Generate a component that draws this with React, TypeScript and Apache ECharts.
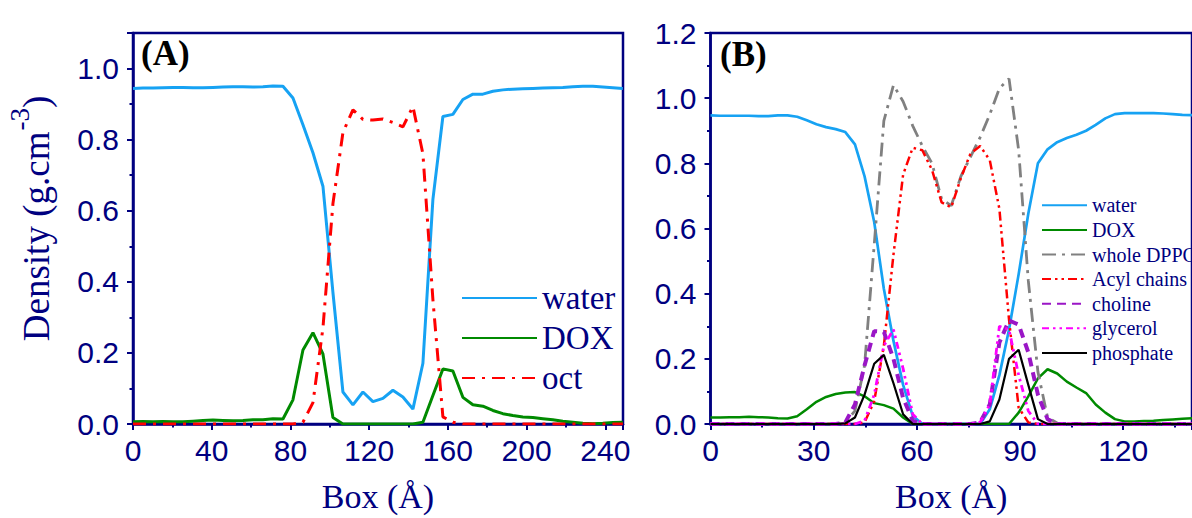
import React, { useEffect, useRef } from 'react';
import * as echarts from 'echarts';

const NAVY = '#000080';
const SANS = 'Liberation Sans, Arial, sans-serif';
const SERIF = 'Liberation Serif, Times New Roman, serif';

// Panel A sampling step (Å) and panel B sampling step (Å)
const STEP_A = 5.08;
const STEP_B = 2.8;

// ---------- Panel A ----------
const waterA = [
  0.944, 0.945, 0.945, 0.946, 0.947, 0.947, 0.946, 0.946, 0.947, 0.948,
  0.949, 0.949, 0.948, 0.949, 0.951, 0.950, 0.917, 0.842, 0.763, 0.669,
  0.370, 0.090, 0.054, 0.090, 0.063, 0.072, 0.095, 0.076, 0.042, 0.171,
  0.632, 0.865, 0.871, 0.913, 0.928, 0.928, 0.936, 0.940, 0.942, 0.943,
  0.944, 0.945, 0.946, 0.947, 0.949, 0.950, 0.950, 0.948, 0.946, 0.944,
];
const doxA = [
  0.006, 0.007, 0.006, 0.007, 0.006, 0.006, 0.008, 0.010, 0.011, 0.010,
  0.009, 0.010, 0.012, 0.012, 0.015, 0.014, 0.068, 0.208, 0.257, 0.197,
  0.018, 0, 0, 0, 0, 0, 0, 0, 0, 0.005,
  0.080, 0.155, 0.149, 0.075, 0.054, 0.050, 0.038, 0.029, 0.024, 0.020,
  0.018, 0.015, 0.012, 0.008, 0.005, 0.002, 0.001, 0.002, 0.004, 0.005,
];
const octA = [
  0, 0, 0, 0, 0, 0, 0, 0, 0, 0,
  0, 0, 0, 0, 0, 0, 0, 0.005, 0.06, 0.27,
  0.62, 0.82, 0.884, 0.857, 0.855, 0.858, 0.848, 0.836, 0.893, 0.76,
  0.35, 0.02, 0.005, 0, 0, 0, 0, 0, 0, 0,
  0, 0, 0, 0, 0, 0, 0, 0, 0, 0,
];

// ---------- Panel B ----------
const waterB = [
  0.947, 0.946, 0.946, 0.946, 0.946, 0.945, 0.945, 0.947, 0.947, 0.943,
  0.932, 0.920, 0.911, 0.905, 0.896, 0.858, 0.760, 0.620, 0.415, 0.255,
  0.120, 0.025, 0, 0, 0, 0, 0, 0, 0, 0.045,
  0.150, 0.290, 0.460, 0.645, 0.800, 0.843, 0.865, 0.878, 0.888, 0.900,
  0.918, 0.938, 0.951, 0.954, 0.954, 0.954, 0.954, 0.953, 0.951, 0.949,
  0.948,
];
const doxB = [
  0.020, 0.020, 0.021, 0.021, 0.022, 0.021, 0.020, 0.018, 0.017, 0.024,
  0.045, 0.068, 0.083, 0.092, 0.097, 0.098, 0.085, 0.064, 0.058, 0.047,
  0.020, 0, 0, 0, 0, 0, 0, 0, 0, 0,
  0, 0, 0.035, 0.085, 0.140, 0.168, 0.155, 0.130, 0.112, 0.095,
  0.060, 0.035, 0.015, 0.008, 0.008, 0.009, 0.010, 0.012, 0.014, 0.016,
  0.018,
];
const dppcB = [
  0, 0, 0, 0, 0, 0, 0, 0, 0, 0,
  0, 0, 0, 0, 0.005, 0.04, 0.18, 0.55, 0.93, 1.04,
  0.99, 0.915, 0.853, 0.80, 0.69, 0.67, 0.76, 0.82, 0.88, 0.95,
  1.03, 1.06, 0.84, 0.44, 0.16, 0.02, 0.003, 0, 0, 0,
  0, 0, 0, 0, 0, 0, 0, 0, 0, 0,
  0,
];
const acylB = [
  0, 0, 0, 0, 0, 0, 0, 0, 0, 0,
  0, 0, 0, 0, 0, 0, 0.005, 0.07, 0.24, 0.52,
  0.765, 0.848, 0.84, 0.78, 0.68, 0.665, 0.755, 0.83, 0.853, 0.81,
  0.66, 0.32, 0.05, 0.005, 0, 0, 0, 0, 0, 0,
  0, 0, 0, 0, 0, 0, 0, 0, 0, 0,
  0,
];
const cholineB = [
  0, 0, 0, 0, 0, 0, 0, 0, 0, 0,
  0, 0, 0, 0, 0.005, 0.06, 0.18, 0.285, 0.283, 0.2,
  0.08, 0.01, 0, 0, 0, 0, 0, 0, 0.005, 0.06,
  0.25, 0.318, 0.305, 0.22, 0.09, 0.015, 0, 0, 0, 0,
  0, 0, 0, 0, 0, 0, 0, 0, 0, 0,
  0,
];
const glycerolB = [
  0, 0, 0, 0, 0, 0, 0, 0, 0, 0,
  0, 0, 0, 0, 0, 0, 0.01, 0.09, 0.24, 0.29,
  0.17, 0.03, 0, 0, 0, 0, 0, 0, 0.005, 0.06,
  0.30, 0.29, 0.15, 0.04, 0, 0, 0, 0, 0, 0,
  0, 0, 0, 0, 0, 0, 0, 0, 0, 0,
  0,
];
const phosphateB = [
  0, 0, 0, 0, 0, 0, 0, 0, 0, 0,
  0, 0, 0, 0, 0.002, 0.02, 0.09, 0.185, 0.212, 0.125,
  0.03, 0, 0, 0, 0, 0, 0, 0, 0, 0.008,
  0.075, 0.2, 0.228, 0.12, 0.015, 0, 0, 0, 0, 0,
  0, 0, 0, 0, 0, 0, 0, 0, 0, 0,
  0,
];

const legendA = ['water', 'DOX', 'oct'];
const legendB = ['water', 'DOX', 'whole DPPC', 'Acyl chains', 'choline', 'glycerol', 'phosphate'];

const xA = waterA.map((_, i) => +(i * STEP_A).toFixed(2));
const xB = waterB.map((_, i) => +(i * STEP_B).toFixed(2));
const pairs = (xs: number[], ys: number[]) => xs.map((x, i) => [x, ys[i]]);

const COLORS: Record<string, string> = {
  water: '#16a2f3',
  DOX: '#008a00',
  oct: '#ff0000',
  'whole DPPC': '#808080',
  'Acyl chains': '#ff0000',
  choline: '#9a16c6',
  glycerol: '#ff00ff',
  phosphate: '#000000',
};

function xAxisCfg(gridIndex: number, max: number, interval: number) {
  return {
    type: 'value',
    gridIndex,
    min: 0,
    max,
    interval,
    axisLine: { show: true, onZero: false, lineStyle: { color: NAVY, width: 2.5 } },
    axisTick: { show: true, length: 6, lineStyle: { color: NAVY, width: 2 } },
    minorTick: { show: true, splitNumber: 2, length: 3.5, lineStyle: { color: NAVY, width: 2 } },
    splitLine: { show: false },
    minorSplitLine: { show: false },
    axisLabel: {
      color: NAVY,
      fontFamily: SANS,
      fontSize: 30,
      margin: 11,
      showMaxLabel: false,
    },
    name: 'Box (Å)',
    nameLocation: 'middle',
    nameGap: 55,
    nameTextStyle: { color: NAVY, fontFamily: SERIF, fontSize: 34 },
  };
}

function yAxisCfg(gridIndex: number, max: number, showMax: boolean, withName: boolean) {
  const cfg: any = {
    type: 'value',
    gridIndex,
    min: 0,
    max,
    interval: 0.2,
    axisLine: { show: true, onZero: false, lineStyle: { color: NAVY, width: 2.5 } },
    axisTick: { show: true, length: 6, lineStyle: { color: NAVY, width: 2 } },
    minorTick: { show: true, splitNumber: 2, length: 3.5, lineStyle: { color: NAVY, width: 2 } },
    splitLine: { show: false },
    minorSplitLine: { show: false },
    axisLabel: {
      color: NAVY,
      fontFamily: SANS,
      fontSize: 30,
      margin: 14,
      showMaxLabel: showMax,
      formatter: (v: number) => v.toFixed(1),
    },
  };
  if (withName) {
    cfg.name = '{m|Density (g.cm}{s|-3}{m|)}';
    cfg.nameLocation = 'middle';
    cfg.nameGap = 78;
    cfg.nameTextStyle = {
      color: NAVY,
      fontFamily: SERIF,
      padding: [0, 0, 0, 20],
      rich: {
        m: { fontFamily: SERIF, fontSize: 37, color: NAVY, lineHeight: 40, verticalAlign: 'bottom' },
        s: {
          fontFamily: SERIF,
          fontSize: 27,
          color: NAVY,
          lineHeight: 27,
          verticalAlign: 'bottom',
          padding: [0, 0, 22, 1],
        },
      },
    };
  }
  return cfg;
}

function lineSeries(
  name: string,
  idx: number,
  xs: number[],
  ys: number[],
  width: number,
  type: any,
  z: number,
) {
  const color = COLORS[name];
  return {
    type: 'line',
    name,
    xAxisIndex: idx,
    yAxisIndex: idx,
    data: pairs(xs, ys),
    symbol: 'none',
    showSymbol: false,
    color,
    silent: true,
    z,
    lineStyle: { color, width, type },
    itemStyle: { color },
    emphasis: { disabled: true },
  };
}

const option: any = {
  animation: false,
  backgroundColor: '#ffffff',
  title: [
    {
      text: '(A)',
      left: 141,
      top: 36,
      padding: 0,
      textStyle: { fontFamily: SERIF, fontWeight: 'bold', fontSize: 35, color: '#000000' },
    },
    {
      text: '(B)',
      left: 720,
      top: 37,
      padding: 0,
      textStyle: { fontFamily: SERIF, fontWeight: 'bold', fontSize: 35, color: '#000000' },
    },
  ],
  legend: [
    {
      orient: 'vertical',
      left: 461,
      top: 278,
      padding: 0,
      itemWidth: 75,
      itemHeight: 4,
      itemGap: 0,
      selectedMode: false,
      itemStyle: { opacity: 0 },
      textStyle: { fontFamily: SERIF, fontSize: 33, color: NAVY, lineHeight: 40 },
      data: legendA,
    },
    {
      orient: 'vertical',
      left: 1041,
      top: 193,
      padding: 0,
      itemWidth: 45,
      itemHeight: 4,
      itemGap: 0,
      selectedMode: false,
      itemStyle: { opacity: 0 },
      textStyle: { fontFamily: SERIF, fontSize: 20, color: NAVY, lineHeight: 24.6 },
      data: legendB,
    },
  ],
  grid: [
    {
      left: 133,
      top: 33,
      width: 490,
      height: 393,
      show: true,
      borderColor: NAVY,
      borderWidth: 2.5,
      backgroundColor: 'transparent',
    },
    {
      left: 710.5,
      top: 33,
      width: 491,
      height: 393.5,
      show: true,
      borderColor: NAVY,
      borderWidth: 2.5,
      backgroundColor: 'transparent',
    },
  ],
  xAxis: [xAxisCfg(0, 249, 40), xAxisCfg(1, 140, 30)],
  yAxis: [yAxisCfg(0, 1.1, false, true), yAxisCfg(1, 1.2, true, false)],
  series: [
    lineSeries('water', 0, xA, waterA, 3, 'solid', 3),
    lineSeries('DOX', 0, xA, doxA, 3, 'solid', 2),
    lineSeries('oct', 0, xA, octA, 3, [13, 7, 3, 7], 4),

    lineSeries('water', 1, xB, waterB, 2.7, 'solid', 3),
    lineSeries('DOX', 1, xB, doxB, 2.5, 'solid', 2),
    lineSeries('whole DPPC', 1, xB, dppcB, 2.8, [14, 6, 3, 6], 3),
    lineSeries('Acyl chains', 1, xB, acylB, 2.5, [9, 4, 2.5, 4, 2.5, 4], 4),
    lineSeries('choline', 1, xB, cholineB, 4, [9, 6], 5),
    lineSeries('glycerol', 1, xB, glycerolB, 2.8, [7, 4, 2.5, 4, 2.5, 4], 5),
    lineSeries('phosphate', 1, xB, phosphateB, 2.2, 'solid', 6),
  ],
};

export default function App() {
  const ref = useRef<HTMLDivElement>(null);
  useEffect(() => {
    if (!ref.current) return;
    const chart = echarts.init(ref.current, null, { renderer: 'svg' });
    chart.setOption(option);
    return () => chart.dispose();
  }, []);
  return (
    <div
      ref={ref}
      style={{ position: 'absolute', left: 0, top: 0, width: 1192, height: 518, background: '#fff' }}
    />
  );
}
